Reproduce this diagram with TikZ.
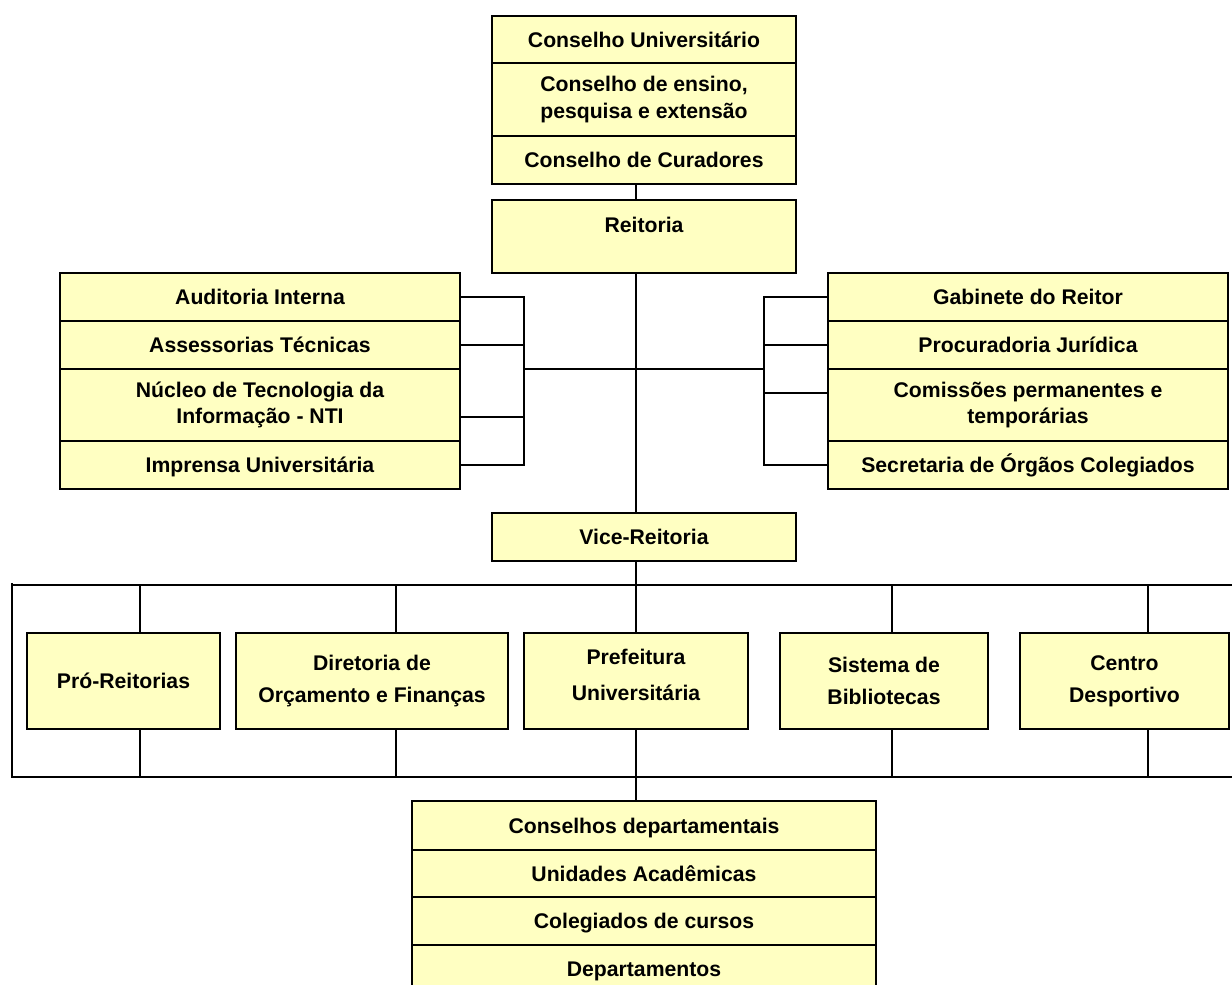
\documentclass[tikz,border=0pt]{standalone}
\usepackage{fontspec}
\setmainfont{Liberation Sans}
\definecolor{boxfill}{HTML}{FFFFC2}
\begin{document}
\begin{tikzpicture}[x=0.5pt,y=-0.5pt,line width=0.8pt,
  box/.style={draw=black,fill=boxfill,inner sep=0pt,align=center,anchor=center,
    font=\bfseries\fontsize{10.6}{13.25}\selectfont},
  one/.style={text height=7.7pt,text depth=0pt},
  rowbox/.style={box,minimum height=48pt,font=\bfseries\fontsize{10.6}{16}\selectfont},
  conn/.style={draw=black,line width=0.8pt}]
\useasboundingbox (0,0) rectangle (1232,985);
% top stack
\node[box,one,minimum width=152pt,minimum height=23.5pt] (cu) at (644,39.5) {Conselho Universitário};
\node[box,minimum width=152pt,minimum height=36.5pt] (cepe) at (644,99.5) {Conselho de ensino,\\pesquisa e extensão};
\node[box,one,minimum width=152pt,minimum height=24pt] (cc) at (644,160) {Conselho de Curadores};
\node[box,minimum width=152pt,minimum height=36.5pt,text depth=11.5pt] (reit) at (644,236.5) {Reitoria};
% left stack
\node[box,one,minimum width=200pt,minimum height=24pt] (ai) at (260,297) {Auditoria Interna};
\node[box,one,minimum width=200pt,minimum height=24pt] (at) at (260,345) {Assessorias Técnicas};
\node[box,minimum width=200pt,minimum height=36pt] (nti) at (260,405) {Núcleo de Tecnologia da\\Informação - NTI};
\node[box,one,minimum width=200pt,minimum height=24pt] (imp) at (260,465) {Imprensa Universitária};
% right stack
\node[box,one,minimum width=200pt,minimum height=24pt] (gab) at (1028,297) {Gabinete do Reitor};
\node[box,one,minimum width=200pt,minimum height=24pt] (proc) at (1028,345) {Procuradoria Jurídica};
\node[box,minimum width=200pt,minimum height=36pt] (com) at (1028,405) {Comissões permanentes e\\temporárias};
\node[box,one,minimum width=200pt,minimum height=24pt] (sec) at (1028,465) {Secretaria de Órgãos Colegiados};
% vice
\node[box,one,minimum width=152pt,minimum height=24pt] (vice) at (644,537) {Vice-Reitoria};
% row
\node[rowbox,one,minimum width=96.5pt] (pro) at (123.5,681) {Pró-Reitorias};
\node[rowbox,minimum width=136pt] (dir) at (372,681) {Diretoria de\\Orçamento e Finanças};
\node[rowbox,minimum width=112pt,text depth=6pt,font=\bfseries\fontsize{10.6}{18}\selectfont] (pref) at (636,681) {Prefeitura\\Universitária};
\node[rowbox,minimum width=104pt] (sib) at (884,681) {Sistema de\\Bibliotecas};
\node[rowbox,minimum width=104.5pt] (cd) at (1124.5,681) {Centro\\Desportivo};
% bottom stack
\node[box,one,minimum width=232pt,minimum height=24.5pt] (cdep) at (644,825.5) {Conselhos departamentais};
\node[box,one,minimum width=232pt,minimum height=23.5pt] (ua) at (644,873.5) {Unidades Acadêmicas};
\node[box,one,minimum width=232pt,minimum height=24pt] (cole) at (644,921) {Colegiados de cursos};
\node[box,one,minimum width=232pt,minimum height=24pt] (dep) at (644,969) {Departamentos};
% coordinates
\coordinate (sx) at (636,0);
\coordinate (lj) at (524,369);
\coordinate (rj) at (764,369);
\coordinate (tl) at (12,585);
\coordinate (tr) at (1240,585);
\coordinate (bl) at (12,777);
\coordinate (br) at (1240,777);
\coordinate (d1) at (140,585);
\coordinate (d2) at (396,585);
\coordinate (d4) at (892,585);
\coordinate (d5) at (1148,585);
% spine
\draw[conn] (cc.south -| sx) -- (reit.north -| sx);
\draw[conn] (reit.south -| sx) -- (vice.north -| sx);
\draw[conn] (lj) -- (rj);
% left connectors
\draw[conn] (ai.east) -- (ai.east -| lj) -- (imp.east -| lj) -- (imp.east);
\draw[conn] (at.east) -- (at.east -| lj);
\draw[conn] ([yshift=-6pt]nti.east) -- ([yshift=-6pt]nti.east -| lj);
% right connectors
\draw[conn] (gab.west) -- (gab.west -| rj) -- (sec.west -| rj) -- (sec.west);
\draw[conn] (proc.west) -- (proc.west -| rj);
\draw[conn] ([yshift=6pt]com.west) -- ([yshift=6pt]com.west -| rj);
% buses
\draw[conn] (vice.south -| sx) -- (pref.north);
\draw[conn] (tr) -- (tl) -- ([yshift=1pt]tl);
\draw[conn] ([yshift=1pt]tl) -- (bl) -- (br);
% drops
\draw[conn] (d1) -- (d1 |- pro.north);
\draw[conn] (d1 |- pro.south) -- (d1 |- bl);
\draw[conn] (d2) -- (d2 |- dir.north);
\draw[conn] (d2 |- dir.south) -- (d2 |- bl);
\draw[conn] (d4) -- (d4 |- sib.north);
\draw[conn] (d4 |- sib.south) -- (d4 |- bl);
\draw[conn] (d5) -- (d5 |- cd.north);
\draw[conn] (d5 |- cd.south) -- (d5 |- bl);
\draw[conn] (pref.south) -- (pref.south |- cdep.north);
\end{tikzpicture}
\end{document}
